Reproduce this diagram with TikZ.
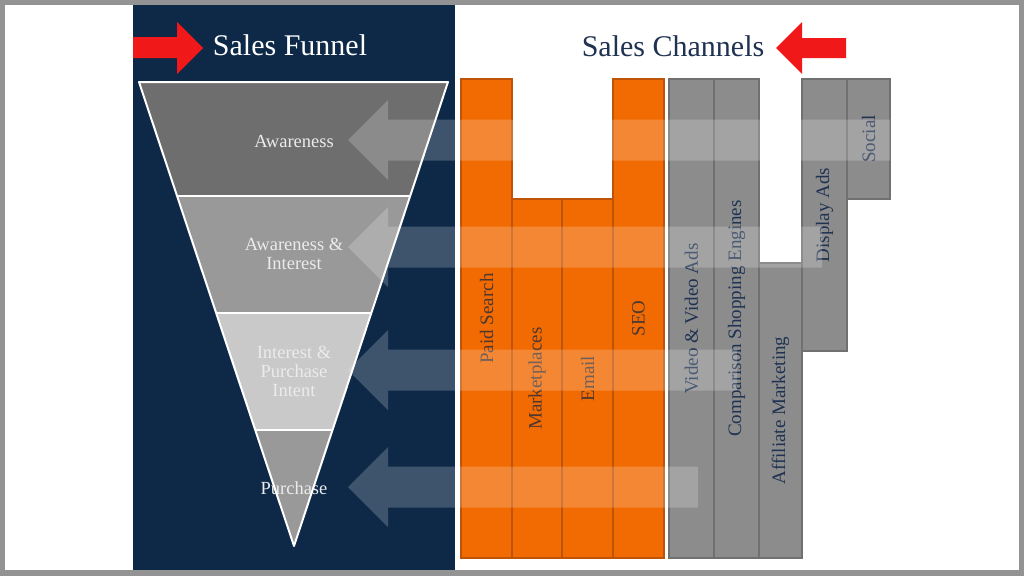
\documentclass[tikz,border=0pt]{standalone}
\usepackage{fontspec}
\setmainfont{Liberation Serif}
\usepackage{tikz}
\usetikzlibrary{calc,positioning}
\definecolor{navy}{RGB}{14,41,72}
\definecolor{framegray}{RGB}{147,147,147}
\definecolor{chorange}{RGB}{242,106,2}
\definecolor{orangeedge}{RGB}{190,84,10}
\definecolor{orangetext}{RGB}{78,56,48}
\definecolor{chgray}{RGB}{140,140,140}
\definecolor{grayedge}{RGB}{112,112,112}
\definecolor{titleblue}{RGB}{31,50,82}
\definecolor{redarrow}{RGB}{240,24,24}

\begin{document}
\begin{tikzpicture}[x=1pt, y=-1pt]
\tikzstyle{orangebar}=[draw=orangeedge, line width=1.2pt, fill=chorange, rotate=90,
                       inner sep=0pt, text=orangetext, font=\fontsize{19}{22}\selectfont]
\tikzstyle{graybar}=[draw=grayedge, line width=1.2pt, fill=chgray, rotate=90,
                     inner sep=0pt, text=titleblue, font=\fontsize{19}{22}\selectfont]
\tikzstyle{stage}=[text=white!92!black, align=center, font=\fontsize{18.5}{19}\selectfont]
\tikzstyle{band}=[fill=white, fill opacity=0.2]
\tikzstyle{title}=[anchor=base, font=\fontsize{30}{36}\selectfont]

\useasboundingbox (0,0) rectangle (1024,576);
\fill[framegray] (0,0) rectangle (1024,576);
\fill[white] (5,5) rectangle (1019,570);
\fill[navy] (133,5) rectangle (455,570);

\node[title, text=white] (funneltitle) at (290,55) {Sales Funnel};
\node[title, text=titleblue] (channeltitle) at (673,56) {Sales Channels};
\fill[redarrow] (133,37) -- (177,37) -- (177,22) -- (203,48) -- (177,74) -- (177,58) -- (133,58) -- cycle;
\fill[redarrow] (846,38) -- (802,38) -- (802,22) -- (776,48) -- (802,74) -- (802,58) -- (846,58) -- cycle;

\coordinate (tl) at (139,82);
\coordinate (tr) at (448,82);
\coordinate (apex) at (294,546);
\coordinate (l1) at ($(tl)!0.245!(apex)$);
\coordinate (r1) at ($(tr)!0.245!(apex)$);
\coordinate (l2) at ($(tl)!0.497!(apex)$);
\coordinate (r2) at ($(tr)!0.497!(apex)$);
\coordinate (l3) at ($(tl)!0.75!(apex)$);
\coordinate (r3) at ($(tr)!0.75!(apex)$);
\fill[black!57] (tl) -- (tr) -- (r1) -- (l1) -- cycle;
\fill[black!40] (l1) -- (r1) -- (r2) -- (l2) -- cycle;
\fill[black!21] (l2) -- (r2) -- (r3) -- (l3) -- cycle;
\fill[black!40] (l3) -- (r3) -- (apex) -- cycle;
\node[stage] (awareness) at (294,141) {Awareness};
\node[stage] (interest) at (294,254) {Awareness \&\\Interest};
\node[stage] (intent) at (294,371) {Interest \&\\Purchase\\Intent};
\node[stage] (purchase) at (294,488) {Purchase};
\draw[white, line width=2pt, line join=round] (tl) -- (tr) -- (apex) -- cycle;
\draw[white, line width=2pt] (l1) -- (r1) (l2) -- (r2) (l3) -- (r3);

\node[orangebar, minimum width=479pt, minimum height=51pt] (paid) at (486.5,318.5) {Paid Search};
\node[orangebar, minimum width=359pt, minimum height=50pt] (market) at (537,378.5) {Marketplaces};
\node[orangebar, minimum width=359pt, minimum height=51pt] (email) at (587.5,378.5) {Email};
\node[orangebar, minimum width=479pt, minimum height=51pt] (seo) at (638.5,318.5) {SEO};
\node[graybar, minimum width=479pt, minimum height=45pt] (video) at (691.5,318.5) {Video \& Video Ads};
\node[graybar, minimum width=479pt, minimum height=45pt] (compare) at (736.5,318.5) {Comparison Shopping Engines};
\node[graybar, minimum width=295pt, minimum height=43pt] (affiliate) at (780.5,410.5) {Affiliate Marketing};
\node[graybar, minimum width=272pt, minimum height=45pt] (display) at (824.5,215) {Display Ads};
\node[graybar, minimum width=120pt, minimum height=43pt] (social) at (868.5,139) {Social};

\foreach \cy/\xr in {140/890, 247/822, 370/737, 487/698}
  \fill[band] (348,\cy) -- (388,{\cy-40}) -- (388,{\cy-20.5}) -- (\xr,{\cy-20.5})
    -- (\xr,{\cy+20.5}) -- (388,{\cy+20.5}) -- (388,{\cy+40}) -- cycle;
\end{tikzpicture}
\end{document}
